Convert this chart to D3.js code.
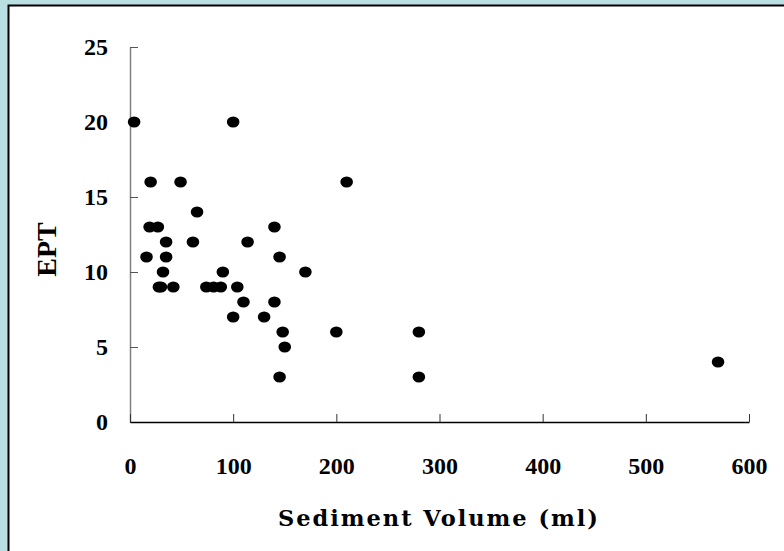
<!DOCTYPE html>
<html>
<head>
<meta charset="utf-8">
<script src="https://cdn.jsdelivr.net/npm/d3@7"></script>
<style>
  html, body { margin: 0; padding: 0; background: #badfe2; }
  svg { display: block; }
  .axis text { font-family: "Liberation Serif", "DejaVu Serif", serif; font-weight: bold; font-size: 24px; fill: #000; }
</style>
</head>
<body>
<div id="chart"></div>
<script>
// sediment volume (ml) and EPT count
var volume = [4, 100, 20, 49, 210, 65, 19, 27, 140, 35, 61, 114, 16, 35, 145, 32, 90, 170,
    28, 30, 42, 74, 81, 88, 104, 110, 140, 100, 130, 148, 200, 280, 150, 145, 280, 570];
var ept = [20, 20, 16, 16, 16, 14, 13, 13, 13, 12, 12, 12, 11, 11, 11, 10, 10, 10,
    9, 9, 9, 9, 9, 9, 9, 8, 8, 7, 7, 6, 6, 6, 5, 3, 3, 4];
var xTicks = [0, 100, 200, 300, 400, 500, 600];
var yTicks = [0, 5, 10, 15, 20, 25];

var W = 784, H = 551;
var margin = { top: 47, right: 35, bottom: 129, left: 130 },
    w = W - margin.left - margin.right,
    h = H - margin.top - margin.bottom;

var svg = d3.select('#chart')
    .append('svg')
    .attr('width', W)
    .attr('height', H);

// white panel with black border
svg.append('rect')
    .attr('x', 8.5).attr('y', 5.5)
    .attr('width', W + 10).attr('height', H + 10)
    .attr('fill', '#fff')
    .attr('stroke', '#000')
    .attr('stroke-width', 2);

var g = svg.append('g')
    .attr('transform', `translate(${margin.left},${margin.top})`);

var xScale = d3.scaleLinear().domain([0, 600]).range([0, w]);
var yScale = d3.scaleLinear().domain([0, 25]).range([h, 0]);

var yAxis = d3.axisLeft(yScale).tickValues(yTicks).tickSizeInner(-8).tickSizeOuter(0).tickPadding(22);
var xAxis = d3.axisBottom(xScale).tickValues(xTicks).tickSizeInner(-8).tickSizeOuter(0).tickPadding(35);

var gy = g.append('g')
    .attr('class', 'y axis')
    .call(yAxis);
gy.select('.domain').attr('stroke', '#808080').attr('stroke-width', 1.5);
gy.selectAll('.tick line').attr('stroke', '#555');
gy.attr('font-family', null).attr('font-size', null);

var gx = g.append('g')
    .attr('class', 'x axis')
    .attr('transform', `translate(0,${h})`)
    .call(xAxis);
gx.select('.domain').attr('stroke', '#000').attr('stroke-width', 1.5);
gx.selectAll('.tick line').attr('stroke', '#333');
gx.attr('font-family', null).attr('font-size', null);

// points
g.selectAll('ellipse')
    .data(volume)
    .enter()
    .append('ellipse')
    .attr('cx', function (d) { return xScale(d); })
    .attr('cy', function (d, i) { return yScale(ept[i]); })
    .attr('rx', 6.3)
    .attr('ry', 5.5)
    .attr('fill', '#000');

// axis titles
svg.append('text')
    .attr('x', 278)
    .attr('y', 526)
    .attr('textLength', 320)
    .attr('lengthAdjust', 'spacing')
    .attr('font-family', '"DejaVu Serif", serif')
    .attr('font-weight', 'bold')
    .attr('font-size', 22.5)
    .text('Sediment Volume (ml)');

svg.append('text')
    .attr('transform', 'translate(56,249.5) rotate(-90)')
    .attr('text-anchor', 'middle')
    .attr('font-family', '"Liberation Serif", "DejaVu Serif", serif')
    .attr('font-weight', 'bold')
    .attr('font-size', 28)
    .text('EPT');
</script>
</body>
</html>
